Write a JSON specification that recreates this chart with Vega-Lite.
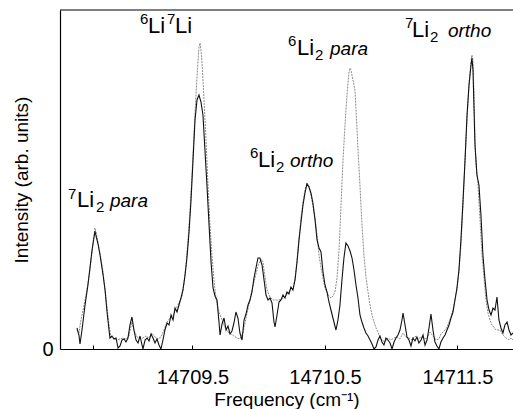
{
"$schema": "https://vega.github.io/schema/vega-lite/v6.json",
"width": 453, "height": 339,
"autosize": {"type": "none"},
"padding": {"left": 60, "top": 10, "right": 0, "bottom": 60},
"background": "white",
"config": {
 "view": {"stroke": null},
 "font": "Liberation Sans",
 "axis": {"labelFont": "Liberation Sans", "titleFont": "Liberation Sans", "labelColor": "black", "titleColor": "black", "domainColor": "black", "tickColor": "black", "titleFontWeight": "normal", "grid": false, "labelFontSize": 19, "titleFontSize": 19, "domainWidth": 1.2}
},
"datasets": {
 "black": [
{"f":14708.628,"i":21},{"f":14708.643,"i":14},{"f":14708.651,"i":5},{"f":14708.666,"i":19},{"f":14708.689,"i":44},{"f":14708.711,"i":64},{"f":14708.726,"i":81},{"f":14708.742,"i":99},{"f":14708.757,"i":112},{"f":14708.764,"i":118},{"f":14708.772,"i":113},{"f":14708.787,"i":105},{"f":14708.802,"i":94},{"f":14708.825,"i":74},{"f":14708.840,"i":59},{"f":14708.855,"i":37},{"f":14708.870,"i":19},{"f":14708.877,"i":11},{"f":14708.892,"i":13},{"f":14708.908,"i":10},{"f":14708.923,"i":11},{"f":14708.938,"i":1},{"f":14708.953,"i":3},{"f":14708.968,"i":9},{"f":14708.983,"i":10},{"f":14708.998,"i":7},{"f":14709.013,"i":11},{"f":14709.028,"i":24},{"f":14709.043,"i":32},{"f":14709.058,"i":19},{"f":14709.074,"i":9},{"f":14709.089,"i":6},{"f":14709.104,"i":13},{"f":14709.119,"i":4},{"f":14709.126,"i":0},{"f":14709.142,"i":9},{"f":14709.157,"i":11},{"f":14709.172,"i":8},{"f":14709.187,"i":15},{"f":14709.202,"i":11},{"f":14709.217,"i":6},{"f":14709.232,"i":10},{"f":14709.247,"i":4},{"f":14709.262,"i":0},{"f":14709.277,"i":9},{"f":14709.292,"i":19},{"f":14709.308,"i":26},{"f":14709.323,"i":24},{"f":14709.338,"i":34},{"f":14709.353,"i":29},{"f":14709.368,"i":41},{"f":14709.383,"i":37},{"f":14709.398,"i":44},{"f":14709.413,"i":51},{"f":14709.428,"i":59},{"f":14709.443,"i":73},{"f":14709.458,"i":91},{"f":14709.474,"i":117},{"f":14709.489,"i":149},{"f":14709.504,"i":189},{"f":14709.519,"i":229},{"f":14709.534,"i":249},{"f":14709.549,"i":254},{"f":14709.564,"i":247},{"f":14709.579,"i":234},{"f":14709.594,"i":199},{"f":14709.609,"i":164},{"f":14709.625,"i":124},{"f":14709.640,"i":87},{"f":14709.655,"i":61},{"f":14709.670,"i":53},{"f":14709.685,"i":49},{"f":14709.700,"i":27},{"f":14709.708,"i":14},{"f":14709.723,"i":25},{"f":14709.738,"i":31},{"f":14709.753,"i":19},{"f":14709.768,"i":23},{"f":14709.783,"i":15},{"f":14709.798,"i":18},{"f":14709.813,"i":26},{"f":14709.828,"i":37},{"f":14709.843,"i":31},{"f":14709.858,"i":16},{"f":14709.874,"i":9},{"f":14709.889,"i":29},{"f":14709.904,"i":35},{"f":14709.919,"i":44},{"f":14709.934,"i":49},{"f":14709.949,"i":57},{"f":14709.964,"i":71},{"f":14709.979,"i":81},{"f":14709.994,"i":91},{"f":14710.009,"i":91},{"f":14710.025,"i":84},{"f":14710.040,"i":69},{"f":14710.055,"i":54},{"f":14710.070,"i":49},{"f":14710.085,"i":51},{"f":14710.100,"i":46},{"f":14710.115,"i":27},{"f":14710.123,"i":22},{"f":14710.138,"i":34},{"f":14710.153,"i":47},{"f":14710.168,"i":49},{"f":14710.183,"i":54},{"f":14710.198,"i":51},{"f":14710.213,"i":57},{"f":14710.228,"i":55},{"f":14710.243,"i":62},{"f":14710.258,"i":59},{"f":14710.274,"i":69},{"f":14710.289,"i":87},{"f":14710.304,"i":109},{"f":14710.319,"i":127},{"f":14710.334,"i":144},{"f":14710.349,"i":156},{"f":14710.364,"i":165},{"f":14710.379,"i":162},{"f":14710.394,"i":156},{"f":14710.409,"i":146},{"f":14710.425,"i":129},{"f":14710.440,"i":109},{"f":14710.455,"i":101},{"f":14710.470,"i":97},{"f":14710.485,"i":77},{"f":14710.500,"i":64},{"f":14710.515,"i":57},{"f":14710.530,"i":47},{"f":14710.545,"i":39},{"f":14710.560,"i":31},{"f":14710.575,"i":23},{"f":14710.583,"i":19},{"f":14710.598,"i":29},{"f":14710.613,"i":44},{"f":14710.628,"i":69},{"f":14710.643,"i":91},{"f":14710.658,"i":106},{"f":14710.674,"i":103},{"f":14710.689,"i":98},{"f":14710.704,"i":91},{"f":14710.719,"i":79},{"f":14710.734,"i":64},{"f":14710.749,"i":51},{"f":14710.764,"i":34},{"f":14710.779,"i":27},{"f":14710.794,"i":21},{"f":14710.809,"i":16},{"f":14710.825,"i":13},{"f":14710.840,"i":9},{"f":14710.855,"i":5},{"f":14710.870,"i":0},{"f":14710.885,"i":2},{"f":14710.900,"i":9},{"f":14710.915,"i":13},{"f":14710.930,"i":7},{"f":14710.945,"i":4},{"f":14710.960,"i":11},{"f":14710.975,"i":9},{"f":14710.991,"i":6},{"f":14711.006,"i":0},{"f":14711.021,"i":7},{"f":14711.036,"i":11},{"f":14711.051,"i":14},{"f":14711.066,"i":19},{"f":14711.081,"i":29},{"f":14711.089,"i":36},{"f":14711.104,"i":24},{"f":14711.119,"i":12},{"f":14711.134,"i":9},{"f":14711.149,"i":3},{"f":14711.164,"i":11},{"f":14711.179,"i":8},{"f":14711.194,"i":12},{"f":14711.209,"i":6},{"f":14711.225,"i":9},{"f":14711.240,"i":14},{"f":14711.255,"i":4},{"f":14711.270,"i":9},{"f":14711.285,"i":21},{"f":14711.300,"i":35},{"f":14711.315,"i":19},{"f":14711.330,"i":7},{"f":14711.345,"i":3},{"f":14711.360,"i":0},{"f":14711.375,"i":7},{"f":14711.391,"i":11},{"f":14711.406,"i":14},{"f":14711.421,"i":19},{"f":14711.436,"i":24},{"f":14711.451,"i":31},{"f":14711.466,"i":37},{"f":14711.481,"i":49},{"f":14711.496,"i":61},{"f":14711.511,"i":79},{"f":14711.526,"i":109},{"f":14711.542,"i":149},{"f":14711.557,"i":189},{"f":14711.572,"i":234},{"f":14711.587,"i":264},{"f":14711.602,"i":284},{"f":14711.609,"i":291},{"f":14711.617,"i":279},{"f":14711.625,"i":239},{"f":14711.632,"i":204},{"f":14711.647,"i":174},{"f":14711.662,"i":164},{"f":14711.677,"i":134},{"f":14711.692,"i":94},{"f":14711.708,"i":69},{"f":14711.723,"i":49},{"f":14711.738,"i":39},{"f":14711.753,"i":34},{"f":14711.768,"i":41},{"f":14711.783,"i":39},{"f":14711.798,"i":52},{"f":14711.813,"i":29},{"f":14711.828,"i":21},{"f":14711.843,"i":16},{"f":14711.858,"i":24},{"f":14711.874,"i":27},{"f":14711.889,"i":19},{"f":14711.904,"i":14},{"f":14711.919,"i":16}
 ],
 "grey": [
{"f":14708.628,"i":19},{"f":14708.643,"i":16},{"f":14708.658,"i":29},{"f":14708.674,"i":39},{"f":14708.689,"i":49},{"f":14708.711,"i":66},{"f":14708.726,"i":79},{"f":14708.742,"i":97},{"f":14708.757,"i":114},{"f":14708.764,"i":121},{"f":14708.772,"i":117},{"f":14708.787,"i":106},{"f":14708.802,"i":96},{"f":14708.825,"i":77},{"f":14708.840,"i":59},{"f":14708.855,"i":41},{"f":14708.870,"i":24},{"f":14708.885,"i":12},{"f":14708.908,"i":10},{"f":14708.930,"i":9},{"f":14708.953,"i":10},{"f":14708.975,"i":11},{"f":14708.998,"i":10},{"f":14709.021,"i":13},{"f":14709.043,"i":27},{"f":14709.058,"i":19},{"f":14709.081,"i":12},{"f":14709.104,"i":11},{"f":14709.126,"i":11},{"f":14709.149,"i":13},{"f":14709.172,"i":11},{"f":14709.194,"i":16},{"f":14709.217,"i":12},{"f":14709.240,"i":10},{"f":14709.262,"i":12},{"f":14709.285,"i":19},{"f":14709.308,"i":27},{"f":14709.330,"i":31},{"f":14709.353,"i":33},{"f":14709.375,"i":40},{"f":14709.398,"i":46},{"f":14709.421,"i":53},{"f":14709.436,"i":66},{"f":14709.451,"i":84},{"f":14709.466,"i":109},{"f":14709.481,"i":139},{"f":14709.496,"i":174},{"f":14709.511,"i":214},{"f":14709.526,"i":254},{"f":14709.542,"i":289},{"f":14709.549,"i":302},{"f":14709.557,"i":306},{"f":14709.564,"i":299},{"f":14709.572,"i":287},{"f":14709.587,"i":249},{"f":14709.602,"i":209},{"f":14709.617,"i":164},{"f":14709.632,"i":124},{"f":14709.647,"i":94},{"f":14709.662,"i":69},{"f":14709.677,"i":51},{"f":14709.692,"i":41},{"f":14709.708,"i":34},{"f":14709.723,"i":29},{"f":14709.745,"i":22},{"f":14709.768,"i":17},{"f":14709.791,"i":15},{"f":14709.813,"i":13},{"f":14709.836,"i":11},{"f":14709.858,"i":10},{"f":14709.881,"i":16},{"f":14709.904,"i":31},{"f":14709.926,"i":44},{"f":14709.949,"i":59},{"f":14709.972,"i":71},{"f":14709.994,"i":83},{"f":14710.017,"i":90},{"f":14710.032,"i":87},{"f":14710.047,"i":72},{"f":14710.062,"i":59},{"f":14710.085,"i":52},{"f":14710.108,"i":49},{"f":14710.130,"i":49},{"f":14710.153,"i":49},{"f":14710.175,"i":50},{"f":14710.198,"i":52},{"f":14710.221,"i":56},{"f":14710.243,"i":60},{"f":14710.258,"i":60},{"f":14710.274,"i":71},{"f":14710.289,"i":89},{"f":14710.304,"i":111},{"f":14710.319,"i":131},{"f":14710.334,"i":147},{"f":14710.349,"i":159},{"f":14710.364,"i":166},{"f":14710.379,"i":163},{"f":14710.394,"i":154},{"f":14710.409,"i":143},{"f":14710.425,"i":131},{"f":14710.440,"i":114},{"f":14710.455,"i":94},{"f":14710.470,"i":81},{"f":14710.485,"i":71},{"f":14710.500,"i":61},{"f":14710.515,"i":57},{"f":14710.530,"i":53},{"f":14710.545,"i":51},{"f":14710.560,"i":53},{"f":14710.575,"i":57},{"f":14710.591,"i":71},{"f":14710.606,"i":99},{"f":14710.621,"i":144},{"f":14710.636,"i":189},{"f":14710.651,"i":224},{"f":14710.666,"i":254},{"f":14710.681,"i":277},{"f":14710.689,"i":281},{"f":14710.696,"i":279},{"f":14710.711,"i":269},{"f":14710.726,"i":259},{"f":14710.734,"i":239},{"f":14710.742,"i":219},{"f":14710.749,"i":199},{"f":14710.764,"i":164},{"f":14710.779,"i":124},{"f":14710.794,"i":94},{"f":14710.809,"i":72},{"f":14710.825,"i":57},{"f":14710.840,"i":44},{"f":14710.855,"i":34},{"f":14710.870,"i":27},{"f":14710.885,"i":21},{"f":14710.900,"i":17},{"f":14710.915,"i":11},{"f":14710.930,"i":9},{"f":14710.953,"i":7},{"f":14710.975,"i":11},{"f":14710.998,"i":9},{"f":14711.021,"i":11},{"f":14711.043,"i":12},{"f":14711.066,"i":10},{"f":14711.089,"i":16},{"f":14711.111,"i":12},{"f":14711.134,"i":11},{"f":14711.157,"i":9},{"f":14711.179,"i":13},{"f":14711.202,"i":10},{"f":14711.225,"i":12},{"f":14711.247,"i":11},{"f":14711.270,"i":10},{"f":14711.292,"i":17},{"f":14711.315,"i":13},{"f":14711.338,"i":9},{"f":14711.360,"i":10},{"f":14711.375,"i":15},{"f":14711.391,"i":17},{"f":14711.406,"i":19},{"f":14711.421,"i":22},{"f":14711.436,"i":27},{"f":14711.451,"i":32},{"f":14711.466,"i":39},{"f":14711.481,"i":49},{"f":14711.496,"i":59},{"f":14711.511,"i":77},{"f":14711.526,"i":104},{"f":14711.542,"i":144},{"f":14711.557,"i":189},{"f":14711.572,"i":229},{"f":14711.587,"i":264},{"f":14711.602,"i":287},{"f":14711.609,"i":294},{"f":14711.617,"i":289},{"f":14711.625,"i":254},{"f":14711.632,"i":209},{"f":14711.640,"i":184},{"f":14711.655,"i":164},{"f":14711.670,"i":129},{"f":14711.685,"i":94},{"f":14711.700,"i":71},{"f":14711.715,"i":49},{"f":14711.730,"i":36},{"f":14711.745,"i":29},{"f":14711.760,"i":24},{"f":14711.775,"i":22},{"f":14711.791,"i":19},{"f":14711.806,"i":19},{"f":14711.821,"i":19},{"f":14711.843,"i":14},{"f":14711.866,"i":11},{"f":14711.889,"i":9},{"f":14711.904,"i":11},{"f":14711.919,"i":9}
 ],
 "sup": [
  {"f":14708.560,"i":150,"t":"7"},{"f":14709.104,"i":325,"t":"6"},{"f":14709.308,"i":325,"t":"7"},{"f":14710.221,"i":303,"t":"6"},{"f":14709.934,"i":191,"t":"6"},{"f":14711.104,"i":321,"t":"7"}
 ],
 "main": [
  {"f":14708.628,"i":142,"t":"Li"},{"f":14709.164,"i":316,"t":"Li"},{"f":14709.368,"i":316,"t":"Li"},{"f":14710.289,"i":294,"t":"Li"},{"f":14709.994,"i":182,"t":"Li"},{"f":14711.157,"i":312,"t":"Li"}
 ],
 "sub": [
  {"f":14708.772,"i":137,"t":"2"},{"f":14710.425,"i":289,"t":"2"},{"f":14710.130,"i":177,"t":"2"},{"f":14711.292,"i":307,"t":"2"}
 ],
 "ital": [
  {"f":14708.877,"i":142,"t":"para"},{"f":14710.538,"i":294,"t":"para"},{"f":14710.236,"i":182,"t":"ortho"},{"f":14711.428,"i":312,"t":"ortho"}
 ]
},
"layer": [
 {
  "data": {"name": "grey"},
  "mark": {"type": "line", "stroke": "#8c8c8c", "strokeWidth": 1, "strokeDash": [2, 1], "clip": true},
  "encoding": {
   "x": {"field": "f", "type": "quantitative", "title": "Frequency (cm⁻¹)", "scale": {"domain": [14708.5, 14711.919], "nice": false, "zero": false},
    "axis": {"values": [14708.75, 14709.5, 14710.5, 14711.5], "format": ".1f", "labelExpr": "datum.value < 14709 ? '' : datum.label", "tickSize": -4, "labelPadding": 22, "labelFontSize": 20, "titlePadding": 3, "labelFlush": false}},
   "y": {"field": "i", "type": "quantitative", "title": "Intensity (arb. units)", "scale": {"domain": [0, 339], "nice": false, "zero": true},
    "axis": {"values": [0], "ticks": false, "labelPadding": 7, "labelFontSize": 20, "titlePadding": 10}}
  }
 },
 {
  "data": {"name": "black"},
  "mark": {"type": "line", "stroke": "#111111", "strokeWidth": 1.1, "clip": true},
  "encoding": {
   "x": {"field": "f", "type": "quantitative", "title": "Frequency (cm⁻¹)"},
   "y": {"field": "i", "type": "quantitative", "title": "Intensity (arb. units)"}
  }
 },
 {
  "data": {"values": [{}]},
  "mark": {"type": "rule", "stroke": "black", "strokeWidth": 1.2},
  "encoding": {"y": {"datum": 339, "type": "quantitative", "title": "Intensity (arb. units)"}}
 },
 {
  "data": {"name": "sup"},
  "mark": {"type": "text", "align": "left", "baseline": "alphabetic", "fontSize": 15, "font": "Liberation Sans", "color": "black"},
  "encoding": {"x": {"field": "f", "type": "quantitative", "title": "Frequency (cm⁻¹)"}, "y": {"field": "i", "type": "quantitative", "title": "Intensity (arb. units)"}, "text": {"field": "t"}}
 },
 {
  "data": {"name": "main"},
  "mark": {"type": "text", "align": "left", "baseline": "alphabetic", "fontSize": 22, "font": "Liberation Sans", "color": "black"},
  "encoding": {"x": {"field": "f", "type": "quantitative", "title": "Frequency (cm⁻¹)"}, "y": {"field": "i", "type": "quantitative", "title": "Intensity (arb. units)"}, "text": {"field": "t"}}
 },
 {
  "data": {"name": "sub"},
  "mark": {"type": "text", "align": "left", "baseline": "alphabetic", "fontSize": 15, "font": "Liberation Sans", "color": "black"},
  "encoding": {"x": {"field": "f", "type": "quantitative", "title": "Frequency (cm⁻¹)"}, "y": {"field": "i", "type": "quantitative", "title": "Intensity (arb. units)"}, "text": {"field": "t"}}
 },
 {
  "data": {"name": "ital"},
  "mark": {"type": "text", "align": "left", "baseline": "alphabetic", "fontSize": 19, "fontStyle": "italic", "font": "Liberation Sans", "color": "black"},
  "encoding": {"x": {"field": "f", "type": "quantitative", "title": "Frequency (cm⁻¹)"}, "y": {"field": "i", "type": "quantitative", "title": "Intensity (arb. units)"}, "text": {"field": "t"}}
 }
]
}
